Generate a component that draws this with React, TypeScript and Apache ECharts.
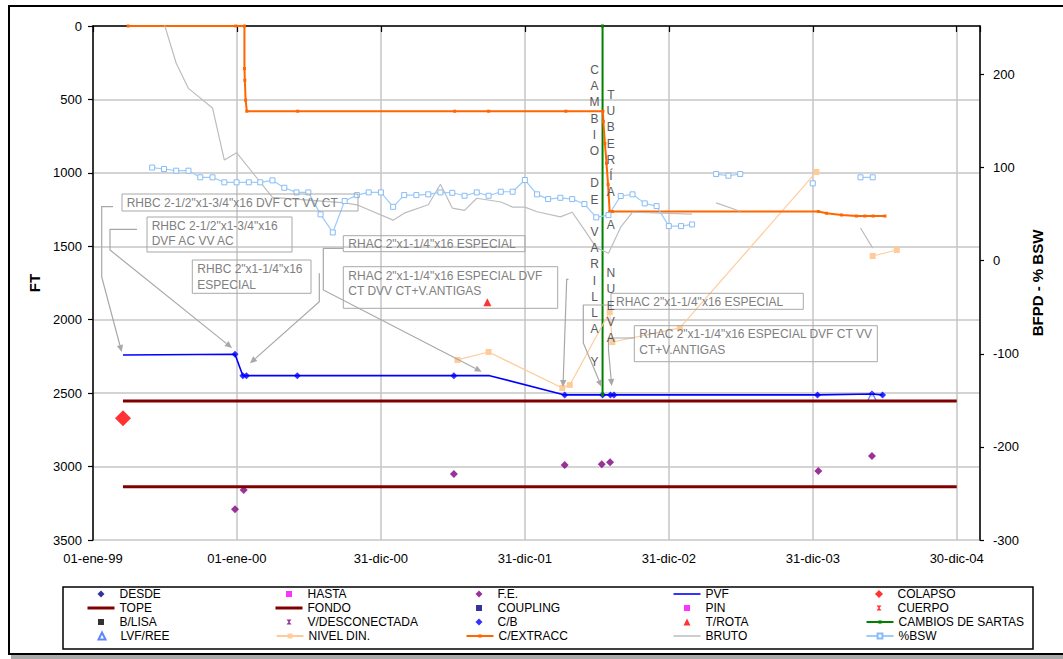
import React, { useEffect, useRef } from 'react';
import * as echarts from 'echarts';

const FONT = '"Liberation Sans", Arial, Helvetica, sans-serif';
const BASE = Date.UTC(1999, 0, 1);
const day = (s: string) => {
  const [y, m, d] = s.split('-').map(Number);
  return Math.round((Date.UTC(y, m - 1, d) - BASE) / 86400000);
};

type Pt = [string, number | null];

// ---- axes ----
const X_MAX_DATE = '2005-02-27';
const X_TICK_STEP_DAYS = 365;
const X_TICK_LABELS = ['01-ene-99', '01-ene-00', '31-dic-00', '31-dic-01', '31-dic-02', '31-dic-03', '30-dic-04'];
const LEFT_MIN = 0;
const LEFT_MAX = 3500;
const LEFT_STEP = 500;
const RIGHT_MIN = -300;
const RIGHT_MAX = 252;
const RIGHT_TICKS = [-300, -200, -100, 0, 100, 200];

// ---- series (left axis, FT) ----
const PVF: Pt[] = [
  ['1999-03-18', 2240], ['1999-12-27', 2235], ['2000-01-16', 2381], ['2000-01-25', 2381],
  ['2000-06-02', 2381], ['2001-07-04', 2381], ['2001-10-03', 2381], ['2002-04-11', 2512],
  ['2002-07-16', 2512], ['2002-08-05', 2512], ['2002-08-14', 2512], ['2004-01-12', 2512],
  ['2004-05-29', 2506], ['2004-06-25', 2512],
];
const CB: Pt[] = [
  ['1999-12-27', 2235], ['2000-01-16', 2381], ['2000-01-25', 2381], ['2000-06-02', 2381],
  ['2001-07-04', 2381], ['2002-04-11', 2512], ['2002-07-16', 2512], ['2002-08-05', 2512],
  ['2002-08-14', 2512], ['2004-01-12', 2512], ['2004-05-29', 2506], ['2004-06-25', 2512],
];
const FE: Pt[] = [
  ['1999-12-27', 3291], ['2000-01-18', 3159], ['2001-07-04', 3050], ['2002-04-11', 2989],
  ['2002-07-14', 2984], ['2002-08-04', 2971], ['2004-01-14', 3030], ['2004-05-29', 2928],
];
const COLAPSO: Pt[] = [['1999-03-18', 2671]];
const T_ROTA: Pt[] = [['2001-09-27', 1881]];
const LVF_REE: Pt[] = [['2004-05-29', 2524]];
const TOPE: Pt[] = [['1999-03-18', 2553], ['2004-12-30', 2553]];
const FONDO: Pt[] = [['1999-03-18', 3137], ['2004-12-30', 3137]];
const CAMBIOS: Pt[] = [['2002-07-16', 0], ['2002-07-16', 2512]];
const NIVEL_DIN: Pt[] = [
  ['2001-07-13', 2274], ['2001-09-30', 2220], ['2002-04-05', 2465], ['2002-04-24', 2444],
  ['2002-08-03', 1947], ['2002-08-10', 2152], ['2003-01-28', 2056], ['2004-01-09', 994],
  ['2004-03-01', null], ['2004-05-31', 1566], ['2004-07-31', 1525],
];
const C_EXTRACC: Pt[] = [
  ['1999-03-31', 0], ['1999-12-29', 0], ['2000-01-20', 0], ['2000-01-20', 290],
  ['2000-01-21', 370], ['2000-01-23', 505], ['2000-01-26', 580], ['2000-06-03', 580],
  ['2001-07-06', 580], ['2001-09-30', 580], ['2002-04-14', 580], ['2002-07-17', 580],
  ['2002-07-18', 650], ['2002-07-22', 800], ['2002-07-26', 935], ['2002-07-30', 1080],
  ['2002-08-03', 1265], ['2002-08-10', 1263], ['2004-01-14', 1263], ['2004-02-04', 1275],
  ['2004-03-13', 1287], ['2004-04-20', 1294], ['2004-05-11', 1294], ['2004-06-01', 1294],
  ['2004-07-01', 1294],
];

// ---- series (right axis, BFPD - % BSW) ----
const BRUTO: Pt[] = [
  ['1999-06-30', 255], ['1999-07-31', 212], ['1999-08-31', 185], ['1999-10-31', 164],
  ['1999-11-30', 108], ['1999-12-31', 116], ['2000-03-31', 68], ['2000-09-30', 62],
  ['2000-10-31', 60], ['2001-01-31', 43.5], ['2001-02-28', 51], ['2001-04-30', 60],
  ['2001-05-31', 82], ['2001-06-30', 56.5], ['2001-07-31', 54], ['2001-08-31', 67],
  ['2001-10-31', 63], ['2001-11-30', 57.5], ['2001-12-31', 57.5], ['2002-01-31', 52.5],
  ['2002-03-31', 47], ['2002-04-30', 52], ['2002-05-31', 33], ['2002-06-30', 14],
  ['2002-07-31', 8], ['2002-08-31', 36], ['2002-09-30', 52], ['2003-02-28', 50],
  ['2003-03-31', null], ['2003-04-30', 62], ['2003-06-30', 53], ['2003-12-31', null],
  ['2004-04-30', 35], ['2004-05-31', 13.5],
];
const BSW: Pt[] = [
  ['1999-05-31', 100], ['1999-06-30', 98.4], ['1999-07-31', 96.6], ['1999-08-31', 96.6],
  ['1999-09-30', 89.5], ['1999-10-31', 89.5], ['1999-11-30', 84.1], ['1999-12-31', 84.1],
  ['2000-01-31', 84.1], ['2000-02-29', 84.1], ['2000-03-31', 86.2], ['2000-04-30', 78.3],
  ['2000-05-31', 73.3], ['2000-06-30', 73.3], ['2000-07-31', 49.7], ['2000-08-31', 30.3],
  ['2000-09-30', 64], ['2000-10-31', 70.4], ['2000-11-30', 73.3], ['2000-12-31', 73.3],
  ['2001-01-31', 57.8], ['2001-02-28', 70.4], ['2001-03-31', 70.4], ['2001-04-30', 71.2],
  ['2001-05-31', 73.3], ['2001-06-30', 72.9], ['2001-07-31', 69.7], ['2001-08-31', 73.3],
  ['2001-09-30', 69.7], ['2001-10-31', 74], ['2001-11-30', 74], ['2001-12-31', 86.6],
  ['2002-01-31', 71.2], ['2002-02-28', 66.1], ['2002-03-31', 67.5], ['2002-04-30', 66.1],
  ['2002-05-31', 60.8], ['2002-06-30', 46.5], ['2002-07-31', 48.9], ['2002-08-31', 69.4],
  ['2002-09-30', 71.2], ['2002-10-31', 61.5], ['2002-11-30', 58.6], ['2002-12-31', 37.1],
  ['2003-01-31', 37.1], ['2003-02-28', 38.9], ['2003-03-31', null], ['2003-04-30', 93],
  ['2003-05-31', 91.2], ['2003-06-30', 93], ['2003-07-31', null], ['2003-12-31', 83],
  ['2004-01-31', null], ['2004-04-30', 89.5], ['2004-05-31', 89.5],
];

// ---- annotation texts ----
const NOTE_TEXTS = [
  'RHBC 2-1/2"x1-3/4"x16 DVF CT VV CT',
  'RHBC 2-1/2"x1-3/4"x16\nDVF AC VV AC',
  'RHBC 2"x1-1/4"x16\nESPECIAL',
  'RHAC 2"x1-1/4"x16 ESPECIAL',
  'RHAC 2"x1-1/4"x16 ESPECIAL DVF\nCT DVV CT+V.ANTIGAS',
  'RHAC 2"x1-1/4"x16 ESPECIAL',
  'RHAC 2"x1-1/4"x16 ESPECIAL DVF CT VV\nCT+V.ANTIGAS',
];
const VERTICAL_TEXT_1 = ['C', 'A', 'M', 'B', 'I', 'O', '', 'D', 'E', '', 'V', 'A', 'R', 'I', 'L', 'L', 'A', '', 'Y'];
const VERTICAL_TEXT_2 = ['T', 'U', 'B', 'E', 'R', 'Í', 'A', '', 'A', '', '', 'N', 'U', 'E', 'V', 'A'];

const LEGEND_ROWS = [
  ['DESDE', 'HASTA', 'F.E.', 'PVF', 'COLAPSO'],
  ['TOPE', 'FONDO', 'COUPLING', 'PIN', 'CUERPO'],
  ['B/LISA', 'V/DESCONECTADA', 'C/B', 'T/ROTA', 'CAMBIOS DE SARTAS'],
  ['LVF/REE', 'NIVEL DIN.', 'C/EXTRACC', 'BRUTO', '%BSW'],
];

// ---- layout (pixels) ----
const NOTE_LAYOUT = [
  { box: [122, 194, 236, 17], tx: 126.7, ty: 194.5, lh: 16 },
  { box: [147, 217, 145, 35], tx: 151.7, ty: 218.2, lh: 15 },
  { box: [192.3, 260, 118.7, 33.3], tx: 197.3, ty: 261.3, lh: 16 },
  { box: [343.3, 235.7, 181.7, 16], tx: 348.3, ty: 235.5, lh: 16 },
  { box: [343.3, 266.7, 214.4, 41.6], tx: 348.3, ty: 268, lh: 15.3 },
  { box: [611, 293.3, 192.3, 16], tx: 616, ty: 293.7, lh: 16 },
  { box: [634.3, 325.7, 243, 36], tx: 639.3, ty: 326, lh: 16 },
];
const LEADERS: number[][][] = [
  [[113, 206.7], [101.7, 206.7], [101.7, 277], [121.7, 352]],
  [[137, 229.3], [110, 229.3], [110, 250], [232, 348]],
  [[319.3, 273.3], [319.3, 301.7], [250, 363.3]],
  [[343, 248.3], [323.3, 248.3], [323.3, 290], [481.7, 371.7]],
  [[568.5, 279.3], [566.7, 279.3], [563, 387]],
  [[611, 305], [583.3, 305], [583.3, 343], [601.7, 387]],
  [[634.3, 338], [608.5, 338], [608.5, 350], [611.7, 386]],
];
const LEGEND_COL_CENTERS = [101, 289, 479, 687, 879];
const LEGEND_ROW_CENTERS = [594, 608, 622, 636];
const LEGEND_ICON_W = 27;

const toData = (pts: Pt[]) => pts.map(([t, v]) => [day(t), v === null ? '-' : v]);

const HOURGLASS = 'path://M0,0H10L6,5L10,10H0L4,5Z';

function leader(pts: number[][]) {
  const n = pts.length;
  const [x1, y1] = pts[n - 2];
  const [x2, y2] = pts[n - 1];
  const a = Math.atan2(y2 - y1, x2 - x1);
  const L = 7, W = 3.2;
  const bx = x2 - L * Math.cos(a), by = y2 - L * Math.sin(a);
  const p1 = [bx + W * Math.sin(a), by - W * Math.cos(a)];
  const p2 = [bx - W * Math.sin(a), by + W * Math.cos(a)];
  return [
    { type: 'polyline', shape: { points: pts.slice(0, -1).concat([[bx, by]]) }, style: { stroke: '#a8a8a8', lineWidth: 1.2, fill: null }, z: 5 },
    { type: 'polygon', shape: { points: [[x2, y2], p1, p2] }, style: { fill: '#a8a8a8' }, z: 5 },
  ];
}

// legend icon kinds: marker (scatter) -> square box of size s; plain line -> rect of thickness; line+marker -> itemHeight
const LEGEND_MARKER: Record<string, number> = {
  DESDE: 7, HASTA: 6, 'F.E.': 7, COLAPSO: 8, COUPLING: 6, PIN: 6, CUERPO: 5,
  'B/LISA': 6, 'V/DESCONECTADA': 5, 'C/B': 7, 'T/ROTA': 7, 'LVF/REE': 7,
};
const LEGEND_PLAIN_LINE: Record<string, number> = { PVF: 1.6, TOPE: 3, FONDO: 3, BRUTO: 1.5 };
const LEGEND_LINE_MARKER: Record<string, number> = { 'CAMBIOS DE SARTAS': 4, 'NIVEL DIN.': 6, 'C/EXTRACC': 4, '%BSW': 6 };

export default function App() {
  const ref = useRef<HTMLDivElement>(null);
  useEffect(() => {
    if (!ref.current) return;
    const chart = echarts.init(ref.current, null, { renderer: 'svg' });

    const legends: any[] = [];
    LEGEND_ROWS.forEach((row, ri) => {
      row.forEach((name, ci) => {
        const c = LEGEND_COL_CENTERS[ci];
        const top = LEGEND_ROW_CENTERS[ri] - 7;
        const textStyle: any = { fontSize: 12, fontFamily: FONT, color: '#000', lineHeight: 14 };
        const base: any = { top, padding: 0, selectedMode: false };
        if (LEGEND_MARKER[name]) {
          const s = LEGEND_MARKER[name];
          legends.push({
            ...base,
            data: [name],
            left: c - s / 2,
            itemWidth: s,
            itemHeight: s,
            textStyle: { ...textStyle, padding: [0, 0, 0, LEGEND_ICON_W / 2 - s / 2] },
          });
        } else if (LEGEND_PLAIN_LINE[name]) {
          legends.push({
            ...base,
            data: [{ name, icon: 'rect' }],
            left: c - LEGEND_ICON_W / 2,
            itemWidth: LEGEND_ICON_W,
            itemHeight: LEGEND_PLAIN_LINE[name],
            textStyle,
          });
        } else {
          legends.push({
            ...base,
            data: [name],
            left: c - LEGEND_ICON_W / 2,
            itemWidth: LEGEND_ICON_W,
            itemHeight: LEGEND_LINE_MARKER[name] || 6,
            textStyle,
          });
        }
      });
    });

    const graphics: any[] = [
      { type: 'rect', shape: { x: 11, y: 654, width: 1070, height: 5 }, style: { fill: '#a9a9a9' }, z: 0 },
      { type: 'rect', shape: { x: 9, y: 6, width: 1080, height: 648 }, style: { fill: null, stroke: '#000', lineWidth: 2 }, z: 0 },
      { type: 'rect', shape: { x: 63, y: 587, width: 970, height: 62 }, style: { fill: null, stroke: '#000', lineWidth: 1.5 }, z: 0 },
    ];
    NOTE_TEXTS.forEach((t, i) => {
      const l = NOTE_LAYOUT[i];
      graphics.push({
        type: 'rect', shape: { x: l.box[0], y: l.box[1], width: l.box[2], height: l.box[3] },
        style: { fill: null, stroke: '#a8a8a8', lineWidth: 1 }, z: 5,
      });
      graphics.push({
        type: 'text', x: l.tx, y: l.ty,
        style: { text: t, fontSize: 12, lineHeight: l.lh, fontFamily: FONT, fill: '#808080', align: 'left', verticalAlign: 'top' },
        z: 6,
      });
    });
    LEADERS.forEach((p) => graphics.push(...leader(p)));
    graphics.push({
      type: 'text', x: 594.5, y: 61.9,
      style: { text: VERTICAL_TEXT_1.join('\n'), fontSize: 12, lineHeight: 16.2, fontFamily: FONT, fill: '#5a5a5a', align: 'center', verticalAlign: 'top' },
      z: 10,
    });
    graphics.push({
      type: 'text', x: 610.8, y: 86.9,
      style: { text: VERTICAL_TEXT_2.join('\n'), fontSize: 12, lineHeight: 16.2, fontFamily: FONT, fill: '#5a5a5a', align: 'center', verticalAlign: 'top' },
      z: 10,
    });

    const axisLabelBase = { fontSize: 13, fontFamily: FONT, color: '#000' };
    const gridLine = { show: true, lineStyle: { color: '#c6c6c6', width: 1.5 } };

    const option: any = {
      animation: false,
      backgroundColor: '#fff',
      grid: { left: 93, right: 83, top: 26, bottom: 119, containLabel: false, outerBoundsMode: 'none' },
      legend: legends,
      graphic: { elements: graphics },
      xAxis: {
        type: 'value',
        min: 0,
        max: day(X_MAX_DATE),
        interval: X_TICK_STEP_DAYS,
        axisLine: { show: true, lineStyle: { color: '#000', width: 1.5 } },
        axisTick: { show: true, length: 6, lineStyle: { color: '#000', width: 1.2 } },
        axisLabel: {
          ...axisLabelBase,
          margin: 12,
          formatter: (v: number) => {
            const i = v / X_TICK_STEP_DAYS;
            return Number.isInteger(i) && X_TICK_LABELS[i] ? X_TICK_LABELS[i] : '';
          },
        },
        splitLine: gridLine,
      },
      yAxis: [
        {
          type: 'value',
          inverse: true,
          min: LEFT_MIN,
          max: LEFT_MAX,
          interval: LEFT_STEP,
          position: 'left',
          name: 'FT',
          nameLocation: 'middle',
          nameRotate: 90,
          nameGap: 50,
          nameTextStyle: { fontSize: 15, fontWeight: 'bold', fontFamily: FONT, color: '#000' },
          axisLine: { show: true, lineStyle: { color: '#000', width: 1.5 } },
          axisTick: { show: true, length: 5, lineStyle: { color: '#000', width: 1.2 } },
          axisLabel: { ...axisLabelBase, margin: 11, formatter: (v: number) => String(v) },
          splitLine: gridLine,
        },
        {
          type: 'value',
          min: RIGHT_MIN,
          max: RIGHT_MAX,
          interval: 100,
          position: 'right',
          name: 'BFPD - % BSW',
          nameLocation: 'middle',
          nameRotate: 90,
          nameGap: 43,
          nameTextStyle: { fontSize: 15, fontWeight: 'bold', fontFamily: FONT, color: '#000' },
          axisLine: { show: true, lineStyle: { color: '#000', width: 1.5 } },
          axisTick: { show: true, length: 4, customValues: RIGHT_TICKS, lineStyle: { color: '#000', width: 1.2 } },
          axisLabel: { ...axisLabelBase, margin: 13, customValues: RIGHT_TICKS, formatter: (v: number) => String(v) },
          splitLine: { show: false },
        },
      ],
      series: [
        { name: 'DESDE', type: 'scatter', data: [], symbol: 'diamond', symbolSize: 7, itemStyle: { color: '#000080' } },
        { name: 'HASTA', type: 'scatter', data: [], symbol: 'rect', symbolSize: 6, itemStyle: { color: '#ff00ff' } },
        { name: 'F.E.', type: 'scatter', data: toData(FE), symbol: 'diamond', symbolSize: 8, itemStyle: { color: '#800080' } },
        { name: 'PVF', type: 'line', data: toData(PVF), symbol: 'none', lineStyle: { color: '#0000ff', width: 1.6 }, itemStyle: { color: '#0000ff' } },
        { name: 'COLAPSO', type: 'scatter', data: toData(COLAPSO), symbol: 'diamond', symbolSize: 16, itemStyle: { color: '#ff0000' } },
        { name: 'TOPE', type: 'line', data: toData(TOPE), symbol: 'none', lineStyle: { color: '#800000', width: 3 }, itemStyle: { color: '#800000' } },
        { name: 'FONDO', type: 'line', data: toData(FONDO), symbol: 'none', lineStyle: { color: '#800000', width: 3 }, itemStyle: { color: '#800000' } },
        { name: 'COUPLING', type: 'scatter', data: [], symbol: 'rect', symbolSize: 6, itemStyle: { color: '#000080' } },
        { name: 'PIN', type: 'scatter', data: [], symbol: 'rect', symbolSize: 6, itemStyle: { color: '#ff00ff' } },
        { name: 'CUERPO', type: 'scatter', data: [], symbol: HOURGLASS, symbolSize: 5, itemStyle: { color: '#ff0000' } },
        { name: 'B/LISA', type: 'scatter', data: [], symbol: 'rect', symbolSize: 6, itemStyle: { color: '#000000' } },
        { name: 'V/DESCONECTADA', type: 'scatter', data: [], symbol: HOURGLASS, symbolSize: 5, itemStyle: { color: '#800080' } },
        { name: 'C/B', type: 'scatter', data: toData(CB), symbol: 'diamond', symbolSize: 7, itemStyle: { color: '#0000ff' } },
        { name: 'T/ROTA', type: 'scatter', data: toData(T_ROTA), symbol: 'triangle', symbolSize: 8, itemStyle: { color: '#ff0000' } },
        { name: 'CAMBIOS DE SARTAS', type: 'line', data: toData(CAMBIOS), symbol: 'rect', symbolSize: 3, showAllSymbol: true, lineStyle: { color: '#008000', width: 2 }, itemStyle: { color: '#008000' } },
        { name: 'LVF/REE', type: 'scatter', data: toData(LVF_REE), symbol: 'triangle', symbolSize: 9, itemStyle: { color: '#ffffff', borderColor: '#3366ff', borderWidth: 1.3 } },
        { name: 'NIVEL DIN.', type: 'line', data: toData(NIVEL_DIN), symbol: 'rect', symbolSize: 6, showAllSymbol: true, lineStyle: { color: '#ffcc99', width: 1.2 }, itemStyle: { color: '#ffcc99' } },
        { name: 'C/EXTRACC', type: 'line', data: toData(C_EXTRACC), symbol: 'rect', symbolSize: 3, showAllSymbol: true, lineStyle: { color: '#ff6600', width: 2 }, itemStyle: { color: '#ff6600' } },
        { name: 'BRUTO', type: 'line', yAxisIndex: 1, data: toData(BRUTO), symbol: 'none', lineStyle: { color: '#bdbdbd', width: 1.2 }, itemStyle: { color: '#bdbdbd' } },
        { name: '%BSW', type: 'line', yAxisIndex: 1, data: toData(BSW), symbol: 'rect', symbolSize: 5, showAllSymbol: true, lineStyle: { color: '#99ccff', width: 1.2 }, itemStyle: { color: '#ffffff', borderColor: '#88bbf5', borderWidth: 1 } },
      ],
    };
    chart.setOption(option);
    return () => chart.dispose();
  }, []);
  return (
    <div
      ref={ref}
      style={{ position: 'fixed', left: 0, top: 0, width: 1063, height: 659, background: '#fff' }}
    />
  );
}
